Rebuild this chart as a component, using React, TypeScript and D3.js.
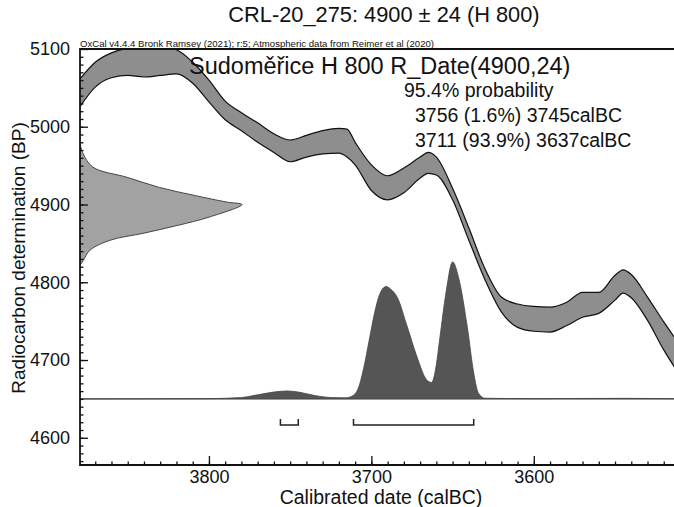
import { useEffect, useRef } from "react";
import * as d3 from "d3";

// calibration curve (IntCal20 band)
const calBC = [3880, 3870, 3860, 3850, 3840, 3830, 3820, 3810, 3800, 3790, 3780, 3770, 3760, 3750, 3740, 3730, 3720, 3715, 3710, 3700, 3690, 3680, 3670, 3665, 3660, 3650, 3640, 3630, 3620, 3610, 3600, 3590, 3580, 3570, 3560, 3550, 3545, 3540, 3530, 3520, 3510];
const upperBP = [5060, 5083, 5095, 5101, 5103, 5103, 5099, 5083, 5060, 5033, 5018, 5005, 4991, 4983, 4989, 4995, 4998, 4997, 4980, 4951, 4937, 4947, 4961, 4967, 4961, 4921, 4870, 4817, 4781, 4772, 4769, 4768, 4774, 4787, 4787, 4809, 4816, 4810, 4781, 4749, 4719];
const lowerBP = [5024, 5051, 5063, 5066, 5064, 5066, 5068, 5056, 5032, 5009, 4995, 4980, 4967, 4955, 4961, 4965, 4966, 4961, 4951, 4918, 4906, 4915, 4934, 4940, 4938, 4906, 4854, 4803, 4762, 4742, 4737, 4736, 4744, 4755, 4760, 4777, 4786, 4780, 4751, 4713, 4680];

// calibrated distribution (relative probability)
const distBC = [3880, 3800, 3780, 3770, 3760, 3752, 3745, 3735, 3725, 3716, 3712, 3708, 3705, 3701, 3698, 3695, 3691, 3688, 3684, 3678, 3672, 3666, 3663, 3660, 3658, 3654, 3650, 3646, 3641, 3637, 3634, 3630, 3600, 3545, 3510];
const distP = [0, 0.002, 0.01, 0.03, 0.05, 0.058, 0.05, 0.025, 0.01, 0.008, 0.02, 0.08, 0.21, 0.45, 0.63, 0.76, 0.82, 0.8, 0.74, 0.53, 0.31, 0.14, 0.12, 0.25, 0.43, 0.78, 1, 0.87, 0.53, 0.19, 0.04, 0.005, 0.002, 0.004, 0.001];

// radiocarbon date 4900 +/- 24 shown on the y axis
const dateBP = [4978, 4965, 4948, 4935, 4922, 4912, 4903, 4900, 4884, 4873, 4863, 4854, 4841, 4828, 4822];
const dateP = [0, 0.02, 0.08, 0.29, 0.49, 0.7, 0.91, 1, 0.8, 0.6, 0.39, 0.185, 0.06, 0.02, 0];

// 95.4% ranges
const ranges = [[3756, 3745], [3711, 3637]];

const xTicks = [3800, 3700, 3600];
const yTicks = [4600, 4700, 4800, 4900, 5000, 5100];

const FONT = "Liberation Sans, Arial, sans-serif";

const App: React.FC = () => {
    const svgRef = useRef<any>();
    useEffect(() => {
        const svg = d3.select(svgRef.current);
        svg.selectAll("*").remove();

        const left = 80, top = 49, bottom = 465, right = 680;
        const x = d3.scaleLinear().domain([3880, 3510]).range([79, 680]);
        const y = d3.scaleLinear().domain([4565, 5100]).range([bottom, top]);
        const base = y(4650);
        const pScale = d3.scaleLinear().domain([0, 1]).range([base, base - 137]);
        const gScale = d3.scaleLinear().domain([0, 1]).range([left, 242]);

        svg.append("defs").append("clipPath").attr("id", "plot")
            .append("rect").attr("x", left).attr("y", top)
            .attr("width", right - left).attr("height", bottom - top);

        const g = svg.append("g").attr("clip-path", "url(#plot)");

        // calibration band
        const band = calBC.map((d, i) => ({ bc: d, hi: upperBP[i], lo: lowerBP[i] }));
        g.append("path")
            .attr("d", d3.area<any>().x(d => x(d.bc)).y0(d => y(d.lo)).y1(d => y(d.hi)).curve(d3.curveMonotoneX)(band))
            .attr("fill", "#8e8e8e");
        ["hi", "lo"].forEach(k => {
            g.append("path")
                .attr("d", d3.line<any>().x(d => x(d.bc)).y(d => y(d[k])).curve(d3.curveMonotoneX)(band))
                .attr("fill", "none").attr("stroke", "#111").attr("stroke-width", 1.2);
        });

        // radiocarbon date on y axis
        const gd = dateBP.map((d, i) => ({ bp: d, p: dateP[i] }));
        g.append("path")
            .attr("d", d3.area<any>().y(d => y(d.bp)).x0(left).x1(d => gScale(d.p)).curve(d3.curveCatmullRom)(gd))
            .attr("fill", "#a2a2a2").attr("stroke", "#444").attr("stroke-width", 1);

        // baseline + calibrated distribution
        g.append("line").attr("x1", left).attr("x2", right).attr("y1", base).attr("y2", base)
            .attr("stroke", "#8a8a8a").attr("stroke-width", 1.2);
        const dd = distBC.map((d, i) => ({ bc: d, p: distP[i] }));
        g.append("path")
            .attr("d", d3.area<any>().x(d => x(d.bc)).y0(base).y1(d => pScale(d.p)).curve(d3.curveMonotoneX)(dd))
            .attr("fill", "#555").attr("stroke", "#444").attr("stroke-width", 0.8);

        // range brackets
        ranges.forEach(r => {
            const x0 = x(r[0]), x1 = x(r[1]), yb = 425;
            svg.append("path")
                .attr("d", `M${x0},${yb - 6}V${yb}H${x1}V${yb - 6}`)
                .attr("fill", "none").attr("stroke", "#222").attr("stroke-width", 1.5);
        });

        // axes: minor and major ticks in separate groups
        const fmt = d3.format("d");
        svg.append("g").attr("transform", `translate(${left},0)`)
            .call(d3.axisLeft(y).tickValues(d3.range(4570, 5100, 10)).tickSize(-3.5).tickFormat(() => "").tickSizeOuter(0));
        svg.append("g").attr("transform", `translate(${left},0)`)
            .call(d3.axisLeft(y).tickValues(yTicks).tickSize(-8).tickPadding(10).tickFormat(fmt as any).tickSizeOuter(0));
        svg.append("g").attr("transform", `translate(0,${bottom})`)
            .call(d3.axisBottom(x).tickValues(d3.range(3870, 3510, -10)).tickSize(-3.5).tickFormat(() => "").tickSizeOuter(0));
        svg.append("g").attr("transform", `translate(0,${bottom})`)
            .call(d3.axisBottom(x).tickValues(xTicks).tickSize(-9).tickPadding(5).tickFormat(fmt as any).tickSizeOuter(0));
        svg.selectAll(".tick line").attr("stroke", "#111").attr("stroke-width", 1.3);
        svg.selectAll(".tick text").attr("font-size", 18).attr("font-family", FONT).attr("fill", "#111");
        svg.selectAll(".domain").remove();

        // frame
        svg.append("path")
            .attr("d", `M${right},${top}H${left}V${bottom}H${right}`)
            .attr("fill", "none").attr("stroke", "#111").attr("stroke-width", 1.8);

        // texts
        const txt = (s: string, tx: number, ty: number, size: number, anchor = "start") =>
            svg.append("text").attr("x", tx).attr("y", ty).attr("font-size", size)
                .attr("font-family", FONT).attr("fill", "#111").attr("text-anchor", anchor).text(s);

        txt("CRL-20_275: 4900 ± 24 (H 800)", 384, 22, 21.8, "middle");
        txt("OxCal v4.4.4 Bronk Ramsey (2021); r:5; Atmospheric data from Reimer et al (2020)", 80, 47, 9.6);
        txt("Sudoměřice H 800 R_Date(4900,24)", 189, 74, 23.5);
        txt("95.4% probability", 404, 97, 19.5);
        txt("3756 (1.6%) 3745calBC", 415, 122, 19.5);
        txt("3711 (93.9%) 3637calBC", 415, 147, 19.5);
        txt("Calibrated date (calBC)", 381, 504, 19.5, "middle");
        svg.append("text").attr("transform", "translate(25,258) rotate(-90)")
            .attr("font-size", 19).attr("font-family", FONT).attr("fill", "#111")
            .attr("text-anchor", "middle").text("Radiocarbon determination (BP)");
    }, []);

    return (
        <svg ref={svgRef} width={674} height={507}
            style={{ position: "absolute", left: 0, top: 0, background: "#fff" }}></svg>
    );
};

export default App;
